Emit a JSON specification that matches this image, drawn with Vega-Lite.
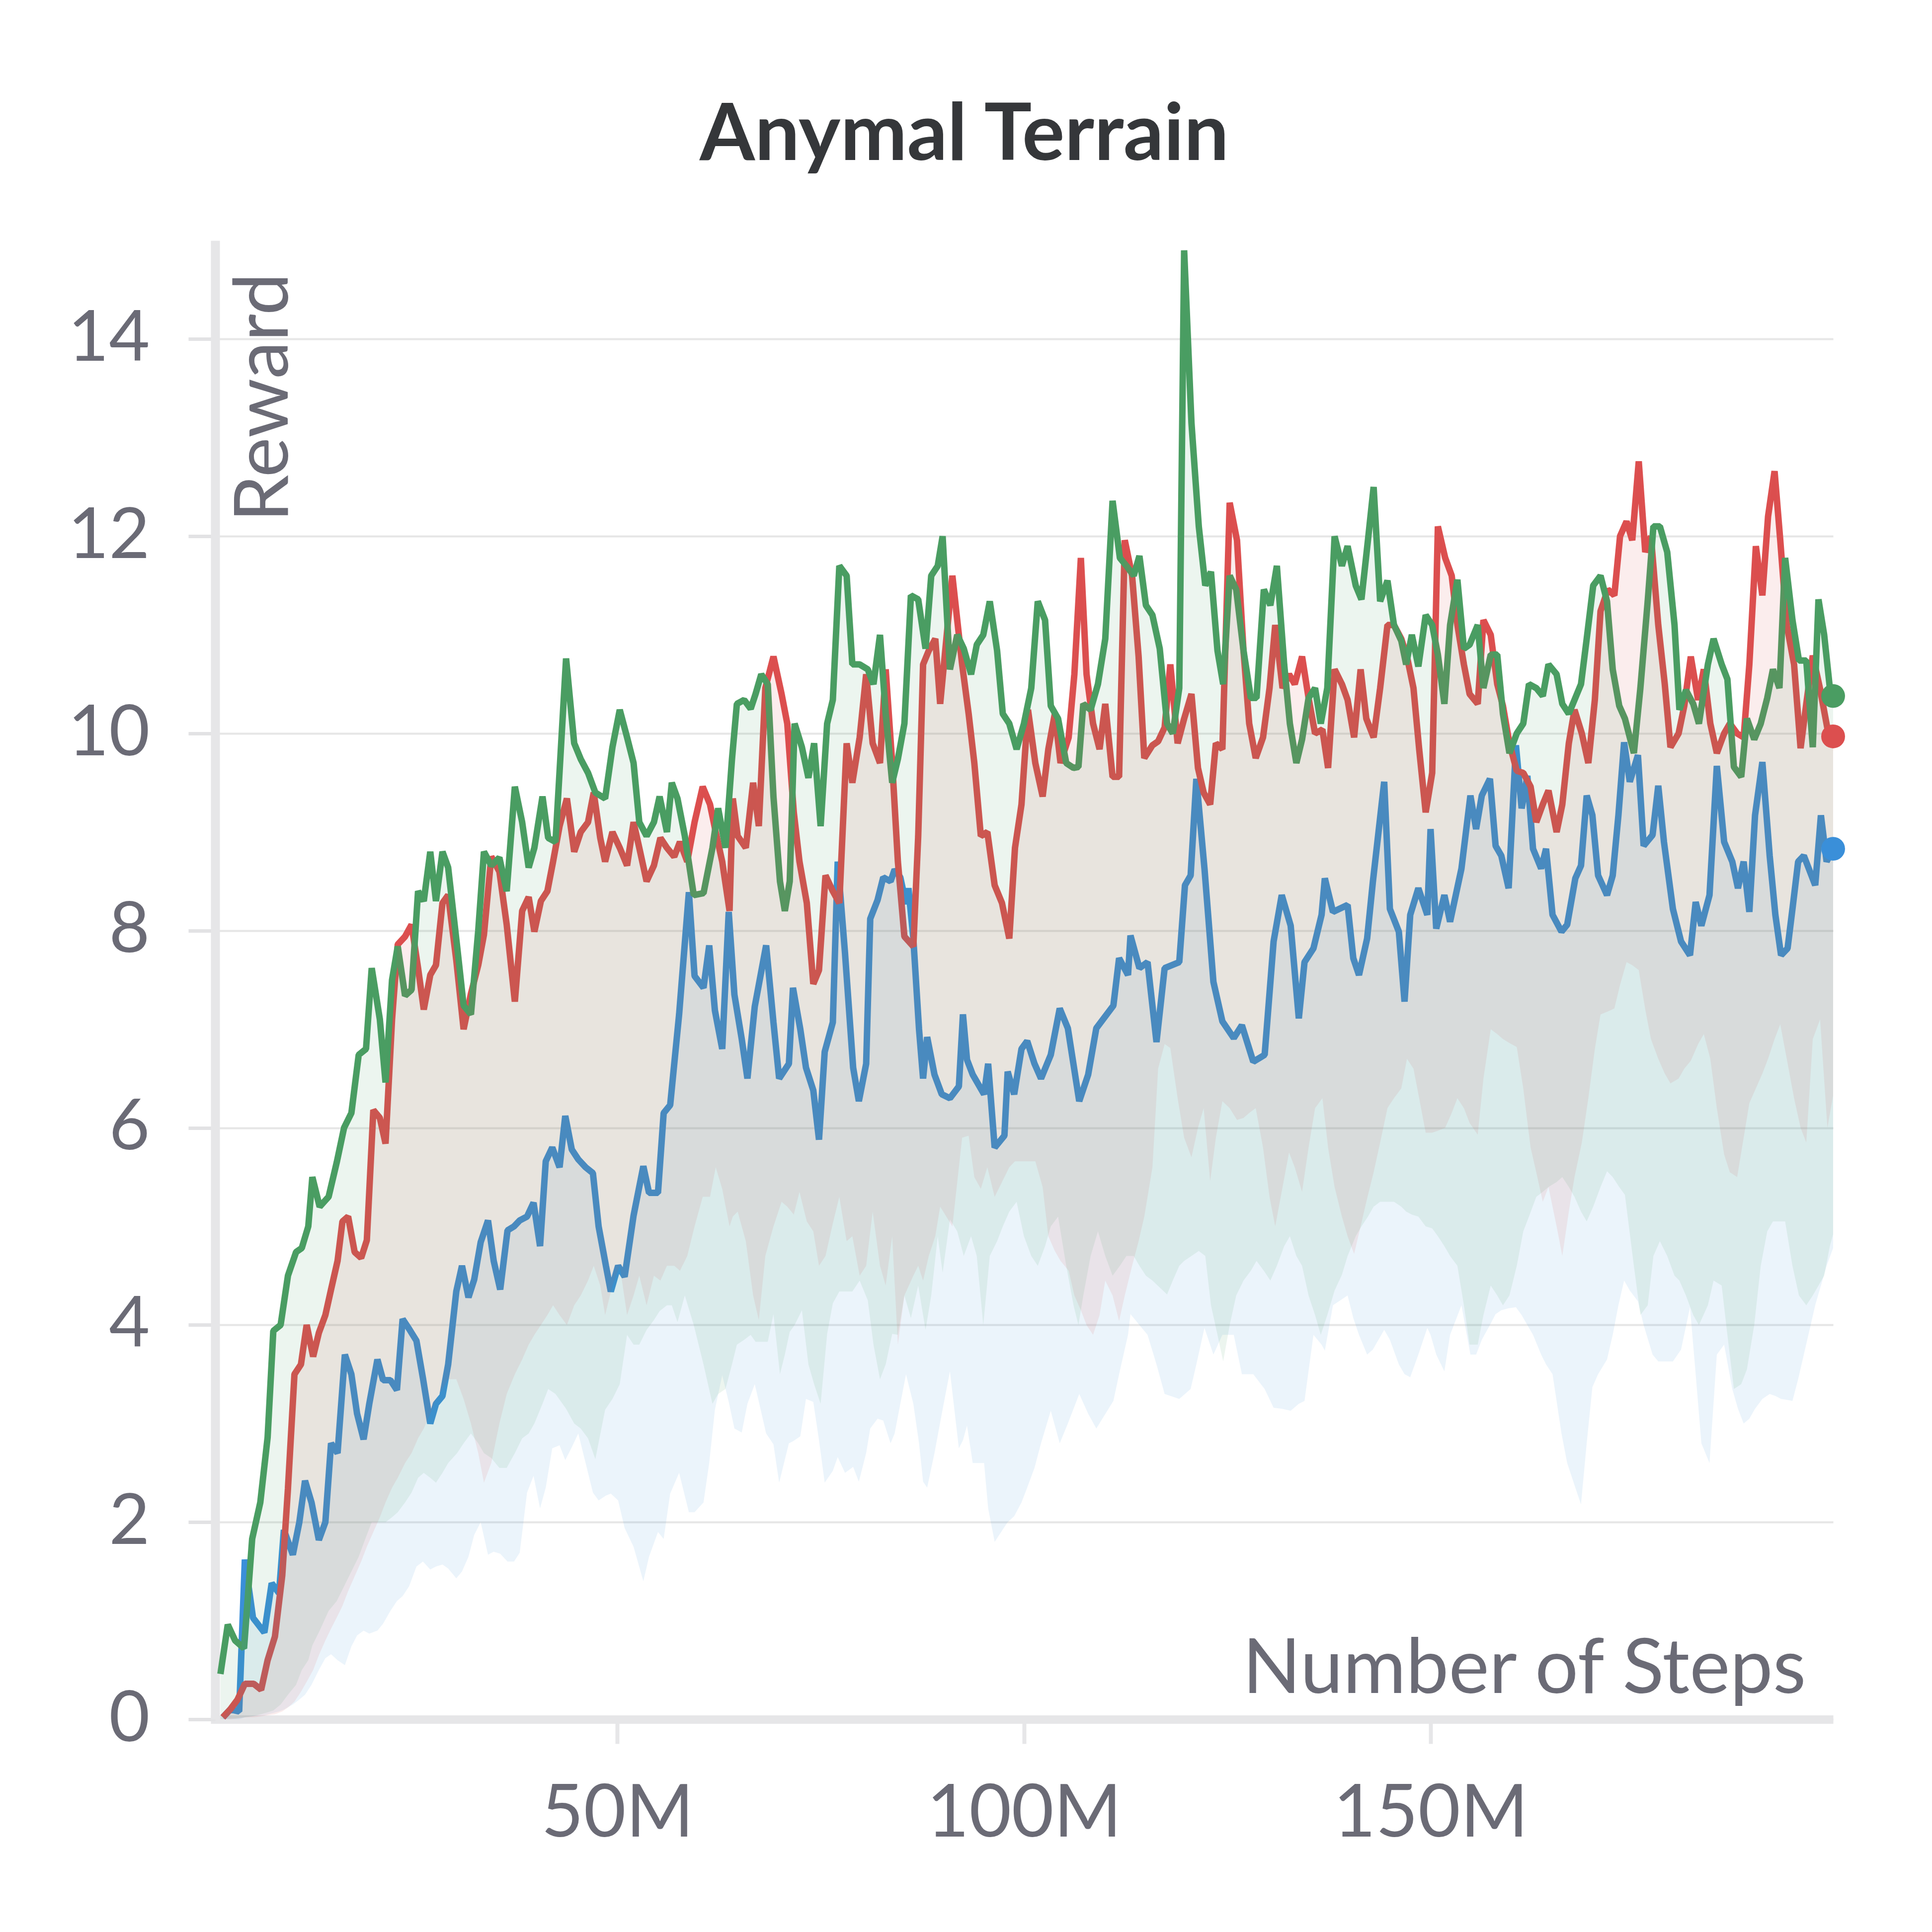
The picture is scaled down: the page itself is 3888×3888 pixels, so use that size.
{
  "$schema": "https://vega.github.io/schema/vega-lite/v6.json",
  "width": 3265,
  "height": 2976,
  "autosize": {"type": "none"},
  "padding": {"left": 424, "top": 484, "right": 199, "bottom": 428},
  "background": "white",
  "title": {
    "text": "Anymal Terrain",
    "font": "Lato",
    "fontSize": 160,
    "fontWeight": "bold",
    "color": "#35373a",
    "anchor": "middle",
    "frame": "group",
    "dx": -116,
    "baseline": "alphabetic",
    "offset": 2
  },
  "datasets": {
    "g": [
      {"x":1.2,"y":0.46,"l":0},{"x":2.1,"y":0.96,"l":0.01},{"x":3.0,"y":0.8,"l":0.01},{"x":4.1,"y":0.72,"l":0.02},{"x":5.1,"y":1.83,"l":0.03},{"x":6.1,"y":2.2,"l":0.05},{"x":7.0,"y":2.86,"l":0.07},{"x":7.7,"y":3.94,"l":0.09},{"x":8.6,"y":4.0,"l":0.15},{"x":9.5,"y":4.5,"l":0.25},{"x":10.5,"y":4.74,"l":0.35},{"x":11.2,"y":4.78,"l":0.5},{"x":12.0,"y":5.0,"l":0.6},{"x":12.5,"y":5.5,"l":0.75},{"x":13.4,"y":5.2,"l":0.9},{"x":14.5,"y":5.3,"l":1.1},{"x":15.5,"y":5.65,"l":1.2},{"x":16.4,"y":6.0,"l":1.35},{"x":17.3,"y":6.15,"l":1.5},{"x":18.2,"y":6.74,"l":1.65},{"x":19.1,"y":6.8,"l":1.85},{"x":19.8,"y":7.62,"l":2.0},{"x":20.8,"y":7.1,"l":2.0},{"x":21.5,"y":6.46,"l":2.0},{"x":22.3,"y":7.5,"l":2.05},{"x":23.0,"y":7.84,"l":2.1},{"x":23.9,"y":7.34,"l":2.2},{"x":24.7,"y":7.4,"l":2.3},{"x":25.5,"y":8.4,"l":2.45},{"x":26.2,"y":8.3,"l":2.5},{"x":27.0,"y":8.8,"l":2.45},{"x":27.7,"y":8.3,"l":2.4},{"x":28.5,"y":8.8,"l":2.5},{"x":29.2,"y":8.64,"l":2.6},{"x":30.3,"y":7.84,"l":2.7},{"x":31.1,"y":7.24,"l":2.8},{"x":32.0,"y":7.15,"l":2.9},{"x":32.9,"y":8.0,"l":2.8},{"x":33.6,"y":8.8,"l":2.7},{"x":34.5,"y":8.66,"l":2.65},{"x":35.5,"y":8.74,"l":2.55},{"x":36.4,"y":8.4,"l":2.55},{"x":37.4,"y":9.46,"l":2.7},{"x":38.3,"y":9.1,"l":2.85},{"x":39.1,"y":8.64,"l":2.9},{"x":39.8,"y":8.84,"l":3.0},{"x":40.8,"y":9.36,"l":3.2},{"x":41.5,"y":8.94,"l":3.35},{"x":42.4,"y":8.9,"l":3.3},{"x":43.7,"y":10.76,"l":3.15},{"x":44.7,"y":9.9,"l":3.0},{"x":45.5,"y":9.74,"l":2.95},{"x":46.4,"y":9.6,"l":2.85},{"x":47.3,"y":9.4,"l":2.64},{"x":48.5,"y":9.34,"l":3.14},{"x":49.4,"y":9.86,"l":3.25},{"x":50.3,"y":10.24,"l":3.4},{"x":51.2,"y":9.96,"l":3.9},{"x":52.0,"y":9.7,"l":3.8},{"x":52.7,"y":9.1,"l":3.8},{"x":53.6,"y":8.96,"l":3.95},{"x":54.5,"y":9.1,"l":4.05},{"x":55.2,"y":9.36,"l":4.14},{"x":56.1,"y":9.0,"l":4.2},{"x":56.7,"y":9.5,"l":4.2},{"x":57.4,"y":9.34,"l":4.03},{"x":58.3,"y":8.96,"l":4.3},{"x":59.4,"y":8.36,"l":4.0},{"x":60.6,"y":8.38,"l":3.6},{"x":61.7,"y":8.84,"l":3.2},{"x":62.4,"y":9.24,"l":3.3},{"x":63.3,"y":8.84,"l":3.35},{"x":64.1,"y":9.74,"l":3.6},{"x":64.7,"y":10.3,"l":3.8},{"x":65.6,"y":10.34,"l":3.85},{"x":66.4,"y":10.25,"l":3.9},{"x":67.0,"y":10.4,"l":3.83},{"x":67.7,"y":10.6,"l":3.83},{"x":68.5,"y":10.5,"l":3.83},{"x":69.2,"y":9.36,"l":4.11},{"x":70.0,"y":8.5,"l":3.5},{"x":70.6,"y":8.2,"l":3.7},{"x":71.2,"y":8.5,"l":3.93},{"x":71.8,"y":10.1,"l":4.0},{"x":72.7,"y":9.86,"l":4.15},{"x":73.5,"y":9.55,"l":3.6},{"x":74.2,"y":9.9,"l":3.4},{"x":75.0,"y":9.06,"l":3.2},{"x":75.8,"y":10.1,"l":3.91},{"x":76.5,"y":10.34,"l":4.22},{"x":77.3,"y":11.7,"l":4.34},{"x":78.2,"y":11.6,"l":4.34},{"x":78.9,"y":10.7,"l":4.34},{"x":79.8,"y":10.7,"l":4.45},{"x":80.8,"y":10.65,"l":4.25},{"x":81.5,"y":10.5,"l":3.8},{"x":82.3,"y":11.0,"l":3.45},{"x":83.0,"y":10.2,"l":3.6},{"x":83.8,"y":9.5,"l":3.91},{"x":84.5,"y":9.74,"l":3.9},{"x":85.3,"y":10.1,"l":4.3},{"x":86.1,"y":11.4,"l":4.07},{"x":87.0,"y":11.36,"l":4.4},{"x":87.9,"y":10.86,"l":3.95},{"x":88.6,"y":11.6,"l":4.3},{"x":89.4,"y":11.7,"l":4.9},{"x":90.0,"y":12.0,"l":4.53},{"x":90.9,"y":10.65,"l":5.07},{"x":91.8,"y":11.0,"l":4.95},{"x":92.6,"y":10.86,"l":4.7},{"x":93.5,"y":10.6,"l":4.9},{"x":94.2,"y":10.9,"l":4.7},{"x":95.0,"y":11.0,"l":4.0},{"x":95.8,"y":11.34,"l":4.7},{"x":96.7,"y":10.84,"l":4.85},{"x":97.4,"y":10.2,"l":5.0},{"x":98.2,"y":10.1,"l":5.15},{"x":99.1,"y":9.84,"l":5.25},{"x":100.0,"y":10.1,"l":4.9},{"x":100.9,"y":10.46,"l":4.7},{"x":101.7,"y":11.34,"l":4.6},{"x":102.6,"y":11.15,"l":4.8},{"x":103.3,"y":10.28,"l":5.0},{"x":104.2,"y":10.15,"l":5.1},{"x":105.2,"y":9.7,"l":4.6},{"x":106.1,"y":9.65,"l":4.2},{"x":106.7,"y":9.66,"l":4.0},{"x":107.3,"y":10.3,"l":4.3},{"x":108.2,"y":10.24,"l":4.7},{"x":109.1,"y":10.5,"l":4.95},{"x":110.0,"y":10.96,"l":4.7},{"x":110.9,"y":12.36,"l":4.5},{"x":111.8,"y":11.78,"l":4.6},{"x":112.6,"y":11.7,"l":4.7},{"x":113.5,"y":11.6,"l":4.7},{"x":114.2,"y":11.8,"l":4.6},{"x":115.0,"y":11.3,"l":4.5},{"x":115.8,"y":11.2,"l":4.45},{"x":116.7,"y":10.86,"l":4.38},{"x":117.6,"y":10.1,"l":4.31},{"x":118.3,"y":10.0,"l":4.45},{"x":119.1,"y":10.46,"l":4.6},{"x":119.7,"y":14.9,"l":4.65},{"x":120.6,"y":13.15,"l":4.7},{"x":121.5,"y":12.1,"l":4.75},{"x":122.3,"y":11.5,"l":4.7},{"x":123.0,"y":11.64,"l":4.2},{"x":123.8,"y":10.84,"l":3.9},{"x":124.5,"y":10.5,"l":3.63},{"x":125.3,"y":11.6,"l":4.0},{"x":126.1,"y":11.46,"l":4.3},{"x":127.0,"y":10.84,"l":4.45},{"x":127.9,"y":10.36,"l":4.55},{"x":128.6,"y":10.36,"l":4.65},{"x":129.5,"y":11.46,"l":4.55},{"x":130.3,"y":11.3,"l":4.45},{"x":131.1,"y":11.7,"l":4.6},{"x":132.0,"y":10.7,"l":4.8},{"x":132.7,"y":10.1,"l":4.9},{"x":133.5,"y":9.7,"l":4.7},{"x":134.2,"y":9.94,"l":4.6},{"x":135.0,"y":10.36,"l":4.3},{"x":135.8,"y":10.46,"l":4.1},{"x":136.5,"y":10.1,"l":3.9},{"x":137.3,"y":10.46,"l":4.1},{"x":138.2,"y":12.0,"l":4.35},{"x":139.1,"y":11.7,"l":4.51},{"x":139.8,"y":11.9,"l":4.7},{"x":140.8,"y":11.5,"l":4.9},{"x":141.5,"y":11.36,"l":5.0},{"x":142.3,"y":11.96,"l":5.1},{"x":143.0,"y":12.5,"l":5.2},{"x":143.8,"y":11.34,"l":5.25},{"x":144.7,"y":11.55,"l":5.25},{"x":145.5,"y":11.1,"l":5.25},{"x":146.4,"y":10.94,"l":5.2},{"x":147.0,"y":10.7,"l":5.15},{"x":147.7,"y":11.0,"l":5.12},{"x":148.5,"y":10.68,"l":5.1},{"x":149.4,"y":11.2,"l":5.0},{"x":150.2,"y":11.1,"l":4.98},{"x":150.9,"y":10.8,"l":4.9},{"x":151.7,"y":10.3,"l":4.8},{"x":152.4,"y":11.1,"l":4.7},{"x":153.3,"y":11.56,"l":4.6},{"x":154.1,"y":10.86,"l":4.2},{"x":154.8,"y":10.9,"l":3.8},{"x":155.8,"y":11.1,"l":3.8},{"x":156.5,"y":10.46,"l":4.1},{"x":157.4,"y":10.8,"l":4.4},{"x":158.2,"y":10.8,"l":4.3},{"x":158.9,"y":10.2,"l":4.2},{"x":159.7,"y":9.8,"l":4.3},{"x":160.6,"y":10.0,"l":4.6},{"x":161.4,"y":10.1,"l":4.95},{"x":162.1,"y":10.5,"l":5.1},{"x":163.0,"y":10.46,"l":5.3},{"x":163.8,"y":10.38,"l":5.35},{"x":164.5,"y":10.7,"l":5.4},{"x":165.5,"y":10.6,"l":5.45},{"x":166.2,"y":10.3,"l":5.5},{"x":167.0,"y":10.2,"l":5.4},{"x":167.7,"y":10.34,"l":5.3},{"x":168.5,"y":10.5,"l":5.15},{"x":169.2,"y":10.96,"l":5.05},{"x":170.0,"y":11.5,"l":5.2},{"x":170.9,"y":11.6,"l":5.4},{"x":171.7,"y":11.34,"l":5.56},{"x":172.4,"y":10.65,"l":5.5},{"x":173.2,"y":10.28,"l":5.4},{"x":173.9,"y":10.15,"l":5.32},{"x":175.0,"y":9.8,"l":4.6},{"x":175.8,"y":10.46,"l":4.1},{"x":176.7,"y":11.34,"l":4.2},{"x":177.4,"y":12.1,"l":4.7},{"x":178.2,"y":12.1,"l":4.85},{"x":179.1,"y":11.84,"l":4.7},{"x":180.0,"y":11.1,"l":4.5},{"x":180.6,"y":10.24,"l":4.45},{"x":181.4,"y":10.44,"l":4.3},{"x":182.3,"y":10.3,"l":4.1},{"x":183.0,"y":10.1,"l":4.0},{"x":184.1,"y":10.7,"l":4.2},{"x":184.8,"y":10.96,"l":4.45},{"x":185.8,"y":10.7,"l":4.4},{"x":186.5,"y":10.55,"l":3.9},{"x":187.3,"y":9.66,"l":3.35},{"x":188.2,"y":9.56,"l":3.4},{"x":188.9,"y":10.15,"l":3.55},{"x":189.8,"y":9.94,"l":4.0},{"x":190.6,"y":10.1,"l":4.6},{"x":191.4,"y":10.36,"l":4.95},{"x":192.1,"y":10.65,"l":5.05},{"x":192.9,"y":10.46,"l":5.05},{"x":193.6,"y":11.78,"l":5.05},{"x":194.5,"y":11.15,"l":4.6},{"x":195.3,"y":10.74,"l":4.3},{"x":196.2,"y":10.74,"l":4.2},{"x":197.0,"y":9.86,"l":4.3},{"x":197.7,"y":11.36,"l":4.4},{"x":198.4,"y":11.0,"l":4.5},{"x":199.1,"y":10.46,"l":4.8},{"x":199.5,"y":10.38,"l":4.92}
    ],
    "r": [
      {"x":1.5,"y":0.02,"l":0},{"x":2.4,"y":0.1,"l":0},{"x":3.3,"y":0.2,"l":0.01},{"x":4.2,"y":0.36,"l":0.02},{"x":5.3,"y":0.36,"l":0.02},{"x":6.2,"y":0.3,"l":0.03},{"x":7.0,"y":0.6,"l":0.04},{"x":7.9,"y":0.84,"l":0.05},{"x":8.8,"y":1.46,"l":0.08},{"x":9.5,"y":2.34,"l":0.12},{"x":10.3,"y":3.5,"l":0.18},{"x":11.1,"y":3.6,"l":0.28},{"x":11.8,"y":4.0,"l":0.38},{"x":12.6,"y":3.68,"l":0.5},{"x":13.3,"y":3.92,"l":0.65},{"x":14.1,"y":4.1,"l":0.8},{"x":14.8,"y":4.36,"l":0.92},{"x":15.6,"y":4.65,"l":1.05},{"x":16.2,"y":5.05,"l":1.15},{"x":16.9,"y":5.1,"l":1.3},{"x":17.7,"y":4.74,"l":1.45},{"x":18.5,"y":4.68,"l":1.6},{"x":19.2,"y":4.86,"l":1.75},{"x":20.0,"y":6.18,"l":1.9},{"x":20.8,"y":6.1,"l":2.05},{"x":21.5,"y":5.84,"l":2.2},{"x":22.3,"y":7.1,"l":2.35},{"x":23.0,"y":7.86,"l":2.45},{"x":23.9,"y":7.94,"l":2.6},{"x":24.7,"y":8.06,"l":2.7},{"x":25.5,"y":7.62,"l":2.85},{"x":26.2,"y":7.2,"l":2.95},{"x":27.0,"y":7.55,"l":3.1},{"x":27.7,"y":7.65,"l":3.25},{"x":28.5,"y":8.28,"l":3.35},{"x":29.2,"y":8.36,"l":3.45},{"x":30.2,"y":7.7,"l":3.45},{"x":31.1,"y":7.0,"l":3.25},{"x":32.0,"y":7.36,"l":3.0},{"x":32.9,"y":7.65,"l":2.7},{"x":33.6,"y":7.96,"l":2.4},{"x":34.5,"y":8.75,"l":2.6},{"x":35.5,"y":8.6,"l":3.0},{"x":36.4,"y":8.06,"l":3.3},{"x":37.4,"y":7.28,"l":3.5},{"x":38.3,"y":8.2,"l":3.65},{"x":39.1,"y":8.34,"l":3.8},{"x":39.8,"y":7.99,"l":3.9},{"x":40.6,"y":8.3,"l":4.0},{"x":41.4,"y":8.4,"l":4.1},{"x":42.1,"y":8.7,"l":4.2},{"x":42.9,"y":9.06,"l":4.1},{"x":43.8,"y":9.34,"l":4.0},{"x":44.7,"y":8.8,"l":4.2},{"x":45.5,"y":9.0,"l":4.3},{"x":46.4,"y":9.1,"l":4.45},{"x":47.1,"y":9.4,"l":4.6},{"x":47.9,"y":8.94,"l":4.4},{"x":48.5,"y":8.7,"l":4.1},{"x":49.4,"y":9.0,"l":4.4},{"x":50.3,"y":8.84,"l":4.6},{"x":51.2,"y":8.66,"l":4.1},{"x":52.0,"y":9.1,"l":4.3},{"x":52.7,"y":8.84,"l":4.5},{"x":53.6,"y":8.5,"l":4.2},{"x":54.5,"y":8.66,"l":4.5},{"x":55.3,"y":8.94,"l":4.45},{"x":56.1,"y":8.84,"l":4.6},{"x":57.0,"y":8.75,"l":4.6},{"x":57.7,"y":8.9,"l":4.55},{"x":58.6,"y":8.7,"l":4.7},{"x":59.5,"y":9.1,"l":5.0},{"x":60.5,"y":9.46,"l":5.3},{"x":61.4,"y":9.28,"l":5.3},{"x":62.1,"y":9.0,"l":5.6},{"x":62.9,"y":8.7,"l":5.38},{"x":63.8,"y":8.2,"l":5.0},{"x":64.2,"y":9.34,"l":5.1},{"x":64.8,"y":8.96,"l":5.15},{"x":65.8,"y":8.84,"l":4.85},{"x":66.7,"y":9.5,"l":4.3},{"x":67.4,"y":9.06,"l":4.05},{"x":68.2,"y":10.46,"l":4.7},{"x":69.2,"y":10.78,"l":5.0},{"x":70.2,"y":10.4,"l":5.25},{"x":70.9,"y":10.1,"l":5.2},{"x":71.7,"y":9.2,"l":5.12},{"x":72.4,"y":8.7,"l":5.35},{"x":73.3,"y":8.28,"l":5.05},{"x":74.1,"y":7.46,"l":4.95},{"x":74.8,"y":7.6,"l":4.6},{"x":75.6,"y":8.56,"l":4.7},{"x":76.5,"y":8.4,"l":5.03},{"x":77.3,"y":8.28,"l":5.3},{"x":78.2,"y":9.9,"l":4.85},{"x":78.9,"y":9.5,"l":4.9},{"x":79.8,"y":9.96,"l":4.5},{"x":80.6,"y":10.6,"l":4.6},{"x":81.4,"y":9.9,"l":5.15},{"x":82.3,"y":9.7,"l":4.6},{"x":83.0,"y":10.65,"l":4.4},{"x":83.8,"y":9.7,"l":4.9},{"x":84.5,"y":8.7,"l":3.8},{"x":85.3,"y":7.94,"l":4.3},{"x":86.4,"y":7.84,"l":4.5},{"x":87.0,"y":8.96,"l":4.6},{"x":87.6,"y":10.7,"l":4.45},{"x":88.3,"y":10.84,"l":4.7},{"x":89.1,"y":10.96,"l":4.9},{"x":89.7,"y":10.3,"l":5.2},{"x":91.2,"y":11.6,"l":5.0},{"x":92.4,"y":10.7,"l":5.9},{"x":93.2,"y":10.2,"l":5.92},{"x":93.9,"y":9.7,"l":5.5},{"x":94.7,"y":8.96,"l":5.38},{"x":95.5,"y":9.0,"l":5.6},{"x":96.4,"y":8.46,"l":5.3},{"x":97.3,"y":8.28,"l":5.45},{"x":98.2,"y":7.92,"l":5.6},{"x":98.9,"y":8.84,"l":5.66},{"x":99.7,"y":9.28,"l":5.66},{"x":100.5,"y":10.24,"l":5.66},{"x":101.4,"y":9.7,"l":5.66},{"x":102.3,"y":9.36,"l":5.4},{"x":103.0,"y":9.84,"l":4.9},{"x":103.8,"y":10.2,"l":4.75},{"x":104.5,"y":9.7,"l":4.65},{"x":105.5,"y":9.96,"l":4.55},{"x":106.2,"y":10.6,"l":4.3},{"x":107.0,"y":11.78,"l":4.15},{"x":107.7,"y":10.6,"l":4.0},{"x":108.5,"y":10.1,"l":3.9},{"x":109.3,"y":9.84,"l":4.1},{"x":110.0,"y":10.3,"l":4.45},{"x":110.9,"y":9.56,"l":4.3},{"x":111.7,"y":9.56,"l":4.04},{"x":112.4,"y":11.96,"l":4.3},{"x":113.3,"y":11.6,"l":4.6},{"x":114.1,"y":10.78,"l":4.85},{"x":114.8,"y":9.75,"l":5.1},{"x":115.8,"y":9.88,"l":5.6},{"x":116.5,"y":9.92,"l":6.6},{"x":117.3,"y":10.06,"l":6.85},{"x":118.0,"y":10.7,"l":6.81},{"x":118.9,"y":9.9,"l":6.3},{"x":119.7,"y":10.15,"l":5.9},{"x":120.6,"y":10.4,"l":5.7},{"x":121.4,"y":9.65,"l":6.0},{"x":122.1,"y":9.4,"l":6.2},{"x":122.9,"y":9.28,"l":5.46},{"x":123.6,"y":9.9,"l":5.9},{"x":124.4,"y":9.84,"l":6.27},{"x":125.3,"y":12.34,"l":6.2},{"x":126.2,"y":11.96,"l":6.08},{"x":127.0,"y":10.84,"l":6.1},{"x":127.7,"y":10.1,"l":6.15},{"x":128.5,"y":9.75,"l":6.2},{"x":129.4,"y":9.96,"l":5.8},{"x":130.2,"y":10.46,"l":5.3},{"x":130.9,"y":11.1,"l":5.0},{"x":131.8,"y":10.46,"l":5.4},{"x":132.6,"y":10.6,"l":5.75},{"x":133.3,"y":10.5,"l":5.6},{"x":134.2,"y":10.78,"l":5.35},{"x":135.0,"y":10.36,"l":5.8},{"x":135.8,"y":10.0,"l":6.2},{"x":136.7,"y":10.04,"l":6.3},{"x":137.4,"y":9.65,"l":5.8},{"x":138.2,"y":10.65,"l":5.4},{"x":139.1,"y":10.5,"l":5.1},{"x":139.8,"y":10.34,"l":4.9},{"x":140.6,"y":9.96,"l":4.72},{"x":141.4,"y":10.65,"l":5.0},{"x":142.1,"y":10.15,"l":5.25},{"x":143.0,"y":9.96,"l":5.55},{"x":143.8,"y":10.46,"l":5.85},{"x":144.7,"y":11.1,"l":6.2},{"x":145.5,"y":11.1,"l":6.3},{"x":146.4,"y":10.96,"l":6.4},{"x":147.1,"y":10.78,"l":6.7},{"x":147.9,"y":10.46,"l":6.6},{"x":148.6,"y":9.84,"l":6.3},{"x":149.4,"y":9.2,"l":5.95},{"x":150.2,"y":9.6,"l":5.95},{"x":150.9,"y":12.1,"l":5.97},{"x":151.8,"y":11.78,"l":6.0},{"x":152.6,"y":11.6,"l":6.15},{"x":153.3,"y":11.1,"l":6.3},{"x":154.1,"y":10.7,"l":6.2},{"x":154.8,"y":10.4,"l":6.05},{"x":155.8,"y":10.3,"l":5.93},{"x":156.5,"y":11.15,"l":6.5},{"x":157.4,"y":11.0,"l":7.0},{"x":158.2,"y":10.5,"l":6.95},{"x":158.9,"y":10.28,"l":6.9},{"x":159.7,"y":9.9,"l":6.86},{"x":160.6,"y":9.62,"l":6.82},{"x":161.4,"y":9.6,"l":6.4},{"x":162.3,"y":9.46,"l":5.8},{"x":163.0,"y":9.1,"l":5.55},{"x":163.8,"y":9.28,"l":5.25},{"x":164.5,"y":9.42,"l":5.4},{"x":165.5,"y":9.0,"l":5.0},{"x":166.2,"y":9.28,"l":4.7},{"x":167.0,"y":9.9,"l":5.15},{"x":167.7,"y":10.24,"l":5.5},{"x":168.6,"y":10.0,"l":5.85},{"x":169.4,"y":9.7,"l":6.3},{"x":170.2,"y":10.34,"l":6.8},{"x":170.9,"y":11.24,"l":7.15},{"x":171.8,"y":11.46,"l":7.18},{"x":172.6,"y":11.4,"l":7.21},{"x":173.3,"y":12.0,"l":7.45},{"x":174.1,"y":12.15,"l":7.68},{"x":174.8,"y":11.96,"l":7.65},{"x":175.6,"y":12.76,"l":7.6},{"x":176.4,"y":11.84,"l":7.2},{"x":177.1,"y":12.0,"l":6.9},{"x":178.0,"y":11.1,"l":6.7},{"x":178.8,"y":10.5,"l":6.55},{"x":179.5,"y":9.86,"l":6.45},{"x":180.5,"y":10.0,"l":6.5},{"x":181.2,"y":10.28,"l":6.6},{"x":182.0,"y":10.78,"l":6.68},{"x":182.9,"y":10.34,"l":6.85},{"x":183.6,"y":10.65,"l":6.95},{"x":184.4,"y":10.1,"l":6.7},{"x":185.2,"y":9.8,"l":6.2},{"x":186.1,"y":10.0,"l":5.73},{"x":186.8,"y":10.1,"l":5.55},{"x":187.7,"y":10.0,"l":5.5},{"x":188.5,"y":9.96,"l":5.9},{"x":189.2,"y":10.7,"l":6.25},{"x":190.0,"y":11.9,"l":6.4},{"x":190.8,"y":11.4,"l":6.55},{"x":191.5,"y":12.2,"l":6.7},{"x":192.3,"y":12.66,"l":6.9},{"x":193.0,"y":11.96,"l":7.05},{"x":193.8,"y":11.1,"l":6.7},{"x":194.7,"y":10.7,"l":6.3},{"x":195.5,"y":9.85,"l":6.0},{"x":196.2,"y":10.3,"l":5.85},{"x":197.0,"y":10.79,"l":6.9},{"x":197.9,"y":10.45,"l":7.1},{"x":198.8,"y":10.05,"l":6.0},{"x":199.5,"y":9.97,"l":6.33}
    ],
    "b": [
      {"x":1.5,"y":0.02,"l":0},{"x":2.4,"y":0.1,"l":0},{"x":3.5,"y":0.08,"l":0},{"x":4.2,"y":1.62,"l":0.02},{"x":5.2,"y":1.03,"l":0.03},{"x":6.6,"y":0.88,"l":0.04},{"x":7.5,"y":1.38,"l":0.06},{"x":8.4,"y":1.28,"l":0.08},{"x":9.0,"y":1.92,"l":0.1},{"x":10.1,"y":1.67,"l":0.15},{"x":10.9,"y":2.0,"l":0.2},{"x":11.6,"y":2.42,"l":0.25},{"x":12.4,"y":2.2,"l":0.35},{"x":13.3,"y":1.82,"l":0.5},{"x":14.1,"y":2.0,"l":0.62},{"x":14.8,"y":2.8,"l":0.66},{"x":15.6,"y":2.7,"l":0.6},{"x":16.5,"y":3.7,"l":0.55},{"x":17.3,"y":3.5,"l":0.74},{"x":18.0,"y":3.1,"l":0.85},{"x":18.8,"y":2.84,"l":0.9},{"x":19.5,"y":3.2,"l":0.87},{"x":20.5,"y":3.65,"l":0.9},{"x":21.2,"y":3.44,"l":0.97},{"x":22.1,"y":3.44,"l":1.1},{"x":22.9,"y":3.34,"l":1.2},{"x":23.6,"y":4.06,"l":1.25},{"x":24.4,"y":3.96,"l":1.35},{"x":25.3,"y":3.84,"l":1.55},{"x":26.1,"y":3.46,"l":1.6},{"x":27.0,"y":3.0,"l":1.52},{"x":27.7,"y":3.2,"l":1.55},{"x":28.5,"y":3.28,"l":1.57},{"x":29.2,"y":3.6,"l":1.53},{"x":30.2,"y":4.34,"l":1.43},{"x":30.9,"y":4.6,"l":1.5},{"x":31.7,"y":4.28,"l":1.65},{"x":32.4,"y":4.46,"l":1.87},{"x":33.2,"y":4.84,"l":2.0},{"x":34.1,"y":5.06,"l":1.67},{"x":34.8,"y":4.65,"l":1.7},{"x":35.6,"y":4.36,"l":1.68},{"x":36.5,"y":4.96,"l":1.6},{"x":37.3,"y":5.0,"l":1.6},{"x":38.0,"y":5.06,"l":1.69},{"x":38.9,"y":5.1,"l":2.3},{"x":39.7,"y":5.24,"l":2.47},{"x":40.5,"y":4.8,"l":2.14},{"x":41.2,"y":5.66,"l":2.35},{"x":42.0,"y":5.8,"l":2.75},{"x":42.9,"y":5.6,"l":2.78},{"x":43.6,"y":6.12,"l":2.63},{"x":44.4,"y":5.78,"l":2.76},{"x":45.2,"y":5.68,"l":2.9},{"x":46.1,"y":5.6,"l":2.6},{"x":47.0,"y":5.54,"l":2.3},{"x":47.7,"y":5.0,"l":2.22},{"x":48.6,"y":4.6,"l":2.27},{"x":49.2,"y":4.34,"l":2.29},{"x":50.1,"y":4.6,"l":2.22},{"x":50.9,"y":4.49,"l":1.94},{"x":52.0,"y":5.11,"l":1.75},{"x":53.2,"y":5.61,"l":1.4},{"x":53.9,"y":5.34,"l":1.65},{"x":55.0,"y":5.34,"l":1.9},{"x":55.7,"y":6.15,"l":1.83},{"x":56.5,"y":6.23,"l":2.29},{"x":57.6,"y":7.15,"l":2.5},{"x":58.8,"y":8.39,"l":2.1},{"x":59.5,"y":7.54,"l":2.1},{"x":60.6,"y":7.42,"l":2.2},{"x":61.3,"y":7.85,"l":2.6},{"x":62.0,"y":7.19,"l":3.14},{"x":62.9,"y":6.8,"l":3.49},{"x":63.7,"y":8.19,"l":3.22},{"x":64.4,"y":7.35,"l":2.95},{"x":65.3,"y":6.9,"l":2.91},{"x":66.0,"y":6.5,"l":3.2},{"x":66.9,"y":7.23,"l":3.4},{"x":68.3,"y":7.85,"l":2.9},{"x":69.2,"y":7.07,"l":2.79},{"x":69.9,"y":6.5,"l":2.4},{"x":71.1,"y":6.65,"l":2.8},{"x":71.6,"y":7.42,"l":2.82},{"x":72.5,"y":7.0,"l":2.87},{"x":73.2,"y":6.61,"l":3.25},{"x":74.1,"y":6.38,"l":3.22},{"x":74.8,"y":5.88,"l":2.83},{"x":75.5,"y":6.77,"l":2.4},{"x":76.5,"y":7.07,"l":2.52},{"x":77.1,"y":8.7,"l":2.66},{"x":78.0,"y":7.77,"l":2.5},{"x":79.0,"y":6.61,"l":2.56},{"x":79.7,"y":6.27,"l":2.41},{"x":80.6,"y":6.65,"l":2.7},{"x":81.1,"y":8.12,"l":2.95},{"x":82.0,"y":8.31,"l":3.05},{"x":82.7,"y":8.54,"l":3.03},{"x":83.6,"y":8.5,"l":2.8},{"x":84.1,"y":8.62,"l":2.9},{"x":84.8,"y":8.54,"l":3.2},{"x":85.5,"y":8.27,"l":3.5},{"x":85.8,"y":8.43,"l":3.4},{"x":86.4,"y":7.92,"l":3.2},{"x":87.1,"y":7.0,"l":2.8},{"x":87.6,"y":6.5,"l":2.41},{"x":88.1,"y":6.92,"l":2.35},{"x":89.0,"y":6.54,"l":2.7},{"x":89.9,"y":6.34,"l":3.1},{"x":90.9,"y":6.3,"l":3.53},{"x":92.0,"y":6.42,"l":2.75},{"x":92.5,"y":7.15,"l":2.83},{"x":93.0,"y":6.69,"l":2.98},{"x":93.7,"y":6.54,"l":2.6},{"x":95.1,"y":6.34,"l":2.6},{"x":95.6,"y":6.65,"l":2.14},{"x":96.4,"y":5.8,"l":1.8},{"x":97.6,"y":5.92,"l":1.95},{"x":98.0,"y":6.57,"l":2.0},{"x":98.8,"y":6.34,"l":2.06},{"x":99.7,"y":6.8,"l":2.2},{"x":100.4,"y":6.88,"l":2.35},{"x":101.3,"y":6.65,"l":2.55},{"x":102.1,"y":6.5,"l":2.8},{"x":103.3,"y":6.74,"l":3.13},{"x":104.4,"y":7.21,"l":2.8},{"x":105.4,"y":7.01,"l":3.0},{"x":106.8,"y":6.27,"l":3.3},{"x":107.9,"y":6.54,"l":3.1},{"x":108.9,"y":7.01,"l":2.95},{"x":111.0,"y":7.24,"l":3.23},{"x":111.7,"y":7.72,"l":3.5},{"x":112.8,"y":7.55,"l":3.9},{"x":113.1,"y":7.95,"l":4.11},{"x":114.2,"y":7.62,"l":4.0},{"x":115.2,"y":7.68,"l":3.9},{"x":116.3,"y":6.87,"l":3.6},{"x":117.3,"y":7.62,"l":3.3},{"x":119.1,"y":7.68,"l":3.25},{"x":119.8,"y":8.46,"l":3.3},{"x":120.5,"y":8.56,"l":3.35},{"x":121.2,"y":9.54,"l":3.6},{"x":122.2,"y":8.63,"l":3.97},{"x":123.3,"y":7.48,"l":3.7},{"x":124.4,"y":7.08,"l":3.9},{"x":125.8,"y":6.91,"l":3.9},{"x":126.8,"y":7.04,"l":3.5},{"x":128.2,"y":6.67,"l":3.5},{"x":129.6,"y":6.74,"l":3.35},{"x":130.7,"y":7.89,"l":3.16},{"x":131.7,"y":8.36,"l":3.15},{"x":132.8,"y":8.05,"l":3.13},{"x":133.8,"y":7.11,"l":3.2},{"x":134.5,"y":7.68,"l":3.23},{"x":135.6,"y":7.82,"l":3.9},{"x":136.6,"y":8.16,"l":3.8},{"x":137.0,"y":8.53,"l":3.74},{"x":138.0,"y":8.19,"l":4.2},{"x":139.8,"y":8.26,"l":4.3},{"x":140.5,"y":7.72,"l":4.07},{"x":141.2,"y":7.55,"l":3.9},{"x":142.2,"y":7.92,"l":3.7},{"x":142.9,"y":8.49,"l":3.75},{"x":144.3,"y":9.51,"l":3.95},{"x":145.0,"y":8.22,"l":3.85},{"x":146.1,"y":7.99,"l":3.6},{"x":146.8,"y":7.28,"l":3.5},{"x":147.5,"y":8.16,"l":3.47},{"x":148.5,"y":8.43,"l":3.7},{"x":149.6,"y":8.16,"l":3.97},{"x":150.0,"y":9.03,"l":3.9},{"x":150.7,"y":8.02,"l":3.7},{"x":151.7,"y":8.36,"l":3.53},{"x":152.4,"y":8.09,"l":3.9},{"x":153.8,"y":8.63,"l":4.2},{"x":154.9,"y":9.37,"l":3.7},{"x":155.6,"y":9.03,"l":3.7},{"x":156.3,"y":9.37,"l":3.85},{"x":157.3,"y":9.54,"l":4.0},{"x":158.0,"y":8.86,"l":4.11},{"x":158.7,"y":8.76,"l":4.15},{"x":159.6,"y":8.43,"l":4.17},{"x":160.5,"y":9.88,"l":4.18},{"x":161.2,"y":9.24,"l":4.1},{"x":161.9,"y":9.57,"l":4.0},{"x":162.6,"y":8.83,"l":3.9},{"x":163.6,"y":8.63,"l":3.7},{"x":164.2,"y":8.83,"l":3.6},{"x":165.0,"y":8.16,"l":3.5},{"x":166.1,"y":7.99,"l":2.9},{"x":166.8,"y":8.06,"l":2.6},{"x":167.8,"y":8.53,"l":2.35},{"x":168.5,"y":8.66,"l":2.18},{"x":169.2,"y":9.37,"l":2.8},{"x":169.9,"y":9.17,"l":3.37},{"x":170.6,"y":8.56,"l":3.5},{"x":171.7,"y":8.36,"l":3.65},{"x":172.4,"y":8.56,"l":3.9},{"x":173.1,"y":9.17,"l":4.2},{"x":173.8,"y":9.91,"l":4.45},{"x":174.5,"y":9.51,"l":4.35},{"x":175.5,"y":9.78,"l":4.24},{"x":176.2,"y":8.86,"l":4.0},{"x":177.3,"y":8.97,"l":3.7},{"x":178.0,"y":9.47,"l":3.63},{"x":178.7,"y":8.9,"l":3.63},{"x":179.8,"y":8.22,"l":3.63},{"x":180.8,"y":7.89,"l":3.75},{"x":181.9,"y":7.75,"l":4.18},{"x":182.6,"y":8.29,"l":3.5},{"x":183.3,"y":8.05,"l":2.8},{"x":184.3,"y":8.36,"l":2.6},{"x":185.2,"y":9.67,"l":3.7},{"x":186.1,"y":8.9,"l":3.8},{"x":187.1,"y":8.7,"l":3.35},{"x":187.8,"y":8.43,"l":3.15},{"x":188.5,"y":8.7,"l":3.0},{"x":189.2,"y":8.19,"l":3.05},{"x":189.9,"y":9.17,"l":3.15},{"x":190.8,"y":9.71,"l":3.25},{"x":191.7,"y":8.76,"l":3.3},{"x":192.4,"y":8.16,"l":3.28},{"x":193.1,"y":7.75,"l":3.25},{"x":193.9,"y":7.82,"l":3.24},{"x":194.5,"y":8.22,"l":3.23},{"x":195.2,"y":8.7,"l":3.45},{"x":195.9,"y":8.76,"l":3.7},{"x":197.3,"y":8.46,"l":4.2},{"x":198.0,"y":9.17,"l":4.4},{"x":198.7,"y":8.7,"l":4.6},{"x":199.5,"y":8.83,"l":4.78}
    ]
  },
  "encoding": {
    "x": {
      "field": "x",
      "type": "quantitative",
      "scale": {"domain": [0, 199.5], "nice": false, "zero": false},
      "axis": {
        "values": [50, 100, 150],
        "labelExpr": "datum.value + 'M'",
        "labelFlush": false,
        "labelLimit": 0,
        "title": "Number of Steps",
        "grid": false,
        "domainColor": "#e6e6e8",
        "domainWidth": 17,
        "tickColor": "#e6e6e8",
        "tickWidth": 8,
        "tickSize": 49,
        "labelFont": "Lato",
        "labelFontSize": 147,
        "labelColor": "#6b6b76",
        "labelPadding": 70,
        "titleFont": "Lato",
        "titleFontSize": 154,
        "titleFontWeight": "normal",
        "titleColor": "#6b6b76",
        "titleAlign": "right",
        "titleBaseline": "alphabetic",
        "titleAnchor": null,
        "titleX": 3210,
        "titleY": -54
      }
    },
    "y": {
      "field": "y",
      "type": "quantitative",
      "scale": {"domain": [0, 15], "nice": false},
      "axis": {
        "values": [0, 2, 4, 6, 8, 10, 12, 14],
        "title": "Reward",
        "offset": -9,
        "grid": true,
        "gridColor": "#e6e6e6",
        "gridWidth": 4,
        "domainColor": "#e6e6e8",
        "domainWidth": 18,
        "tickColor": "#e2e2e4",
        "tickWidth": 7,
        "tickSize": 54,
        "labelFont": "Lato",
        "labelFontSize": 142,
        "labelLimit": 0,
        "labelColor": "#6b6b76",
        "labelPadding": 78,
        "titleFont": "Lato",
        "titleFontSize": 152,
        "titleFontWeight": "normal",
        "titleColor": "#6b6b76",
        "titleAngle": 270,
        "titleAlign": "right",
        "titleBaseline": "alphabetic",
        "titleAnchor": null,
        "titleX": 145,
        "titleY": 65
      }
    }
  },
  "layer": [
    {"data": {"name": "b"}, "mark": {"type": "line", "color": "#3a8fd9", "strokeWidth": 13, "strokeJoin": "bevel"}},
    {"data": {"name": "r"}, "mark": {"type": "line", "color": "#dc4f4f", "strokeWidth": 13, "strokeJoin": "bevel"}},
    {"data": {"name": "g"}, "mark": {"type": "line", "color": "#4a9d62", "strokeWidth": 13, "strokeJoin": "bevel"}},
    {"data": {"name": "b"}, "mark": {"type": "area", "color": "#3a8fd9", "opacity": 0.1}, "encoding": {"y2": {"field": "l"}}},
    {"data": {"name": "r"}, "mark": {"type": "area", "color": "#dc4f4f", "opacity": 0.1}, "encoding": {"y2": {"field": "l"}}},
    {"data": {"name": "g"}, "mark": {"type": "area", "color": "#479c5e", "opacity": 0.1}, "encoding": {"y2": {"field": "l"}}},
    {
      "data": {"values": [{"x": 50}, {"x": 100}, {"x": 150}]},
      "mark": {"type": "rule", "color": "#e6e6e8", "strokeWidth": 8},
      "encoding": {"y": {"datum": 0}, "y2": {"datum": 0.27}}
    },
    {"data": {"name": "b"}, "transform": [{"filter": "datum.x >= 199.5"}], "mark": {"type": "point", "filled": true, "opacity": 1, "size": 2300, "color": "#3a8fd9"}},
    {"data": {"name": "r"}, "transform": [{"filter": "datum.x >= 199.5"}], "mark": {"type": "point", "filled": true, "opacity": 1, "size": 2300, "color": "#dc4f4f"}},
    {"data": {"name": "g"}, "transform": [{"filter": "datum.x >= 199.5"}], "mark": {"type": "point", "filled": true, "opacity": 1, "size": 2300, "color": "#4a9d62"}}
  ],
  "config": {
    "view": {"stroke": null},
    "font": "Lato"
  }
}
